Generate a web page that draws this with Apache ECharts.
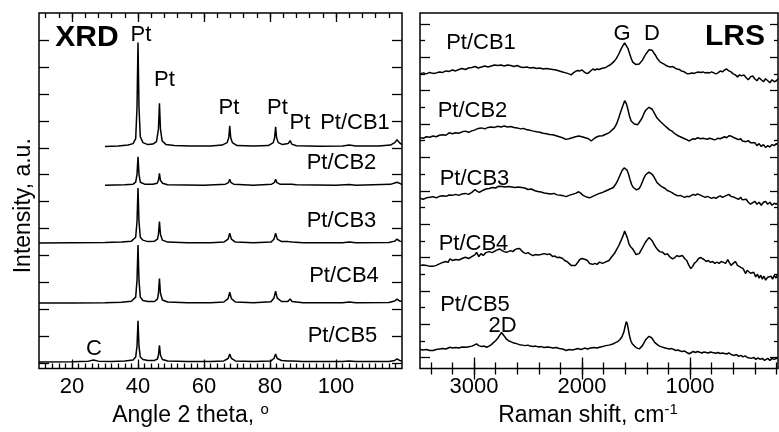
<!DOCTYPE html>
<html><head><meta charset="utf-8">
<script src="https://cdn.jsdelivr.net/npm/echarts@6/dist/echarts.min.js"></script>
<style>html,body{margin:0;padding:0;background:#fff}#c{width:779px;height:432px}</style>
</head><body><div id="c"></div>
<script>
// ---------- XRD (intensity a.u. relative to each trace baseline) ----------
const xrdNames = ['Pt/CB1','Pt/CB2','Pt/CB3','Pt/CB4','Pt/CB5'];
const xrdOffsets = [226, 186.7, 127.7, 66.7, 6.7];
const xrdCB1 = [[30,0],[34,0.5],[37,1.5],[38.5,3],[39.3,8],[39.7,40],[40,106],[40.3,40],[40.7,10],[41.5,4],[43,2],[44.5,2.5],[45.6,5],[46.2,18],[46.5,44],[46.8,18],[47.3,6],[48.5,2],[51,1],[56,0.5],[62,0.5],[65.5,1.5],[67,4],[67.5,9],[67.8,21],[68.1,9],[68.6,4],[70,1],[75,0.5],[79.5,1],[81,4],[81.4,9],[81.7,20],[82,9],[82.5,4],[83.8,2],[85.5,3],[86.1,6],[86.6,2.5],[88,0.8],[95,0.3],[102,0.5],[104,1.5],[106,0.5],[113,0.5],[116.5,1.5],[117.8,4],[118.5,7],[119.2,4],[120,2]];
const xrdCB2 = [[30,0],[36,0.3],[38.5,1],[39.3,3],[39.7,11],[40,29],[40.3,11],[40.7,3],[42,1],[44.5,1],[45.8,2],[46.2,5],[46.5,12],[46.8,5],[47.4,2],[49,0.5],[60,0],[66.5,1],[67.4,2.5],[67.8,6],[68.2,2.5],[69,1],[75,0],[80.5,1],[81.3,2.5],[81.7,6],[82.1,2.5],[83,1],[85.6,1],[86.1,2.3],[86.6,1],[88,0.3],[100,0],[104,0.7],[106,0],[116.5,0.8],[118.5,3],[119.5,1.5],[120,1]];
const xrdCB3 = [[10,0],[20,0.3],[30,0.5],[35,1],[38,2],[39.3,6],[39.7,22],[40,56],[40.3,22],[40.7,6],[41.5,3],[43,1.5],[45,2],[45.9,4],[46.2,9],[46.5,22],[46.8,9],[47.4,3],[49,1],[55,0.3],[62,0.3],[66,1],[67.3,4],[67.8,10],[68.3,4],[69.5,1],[75,0.3],[80.3,1],[81.2,4],[81.7,10],[82.2,4],[83.5,1.5],[85.5,1.5],[86.1,2.5],[86.7,1],[90,0.3],[102,0.3],[104,1],[106,0.3],[116,0.5],[117.8,2],[118.5,4],[119.3,2],[120,1.5]];
const xrdCB4 = [[10,0],[20,0],[30,0.3],[35,0.8],[38,1.8],[39.3,6],[39.7,23],[40,59],[40.3,23],[40.7,6],[41.5,2.5],[43,1.5],[45,1.5],[45.9,4],[46.2,10],[46.5,25],[46.8,10],[47.4,3],[49,1],[55,0.3],[62,0.3],[66,1],[67.3,4.5],[67.8,11],[68.3,4.5],[69.5,1],[75,0.3],[80.3,1.2],[81.2,5],[81.7,12],[82.2,5],[83.5,1.5],[85.4,1.5],[86.1,4],[86.7,1.5],[90,0.3],[102,0.3],[104,1],[106,0.3],[116,0.5],[117.8,2],[118.5,4],[119.3,2],[120,1.5]];
const xrdCB5 = [[10,0],[20,0.3],[25,0.8],[26.5,2],[28,0.8],[32,0.5],[36,1],[38.5,2],[39.3,5],[39.7,16],[40,42],[40.3,16],[40.7,5],[41.5,2.5],[43,1.5],[45,1.5],[45.9,3],[46.2,7],[46.5,17],[46.8,7],[47.4,2.5],[49,1],[55,0.5],[62,0.5],[66,1],[67.3,3.5],[67.8,8],[68.3,3.5],[69.5,1],[75,0.5],[80.3,1],[81.2,3.5],[81.7,8],[82.2,3.5],[83.5,1.5],[85.5,1],[86.1,2],[86.7,1],[90,0.5],[102,0.5],[104,1],[106,0.5],[116,0.5],[117.8,1.5],[118.5,3],[119.3,1.5],[120,1]];
const xrdTickLabels = [20, 40, 60, 80, 100];

// ---------- Raman (intensity a.u. relative to value at 3500 cm-1) ----------
const ramanNames = ['Pt/CB1','Pt/CB2','Pt/CB3','Pt/CB4','Pt/CB5'];
const ramanOffsets = [300, 235, 173.3, 105, 19.3];
const ramanCB1 = [[3500,0],[3470,1],[3440,0],[3410,1.5],[3380,0.5],[3350,1],[3320,2],[3290,1.5],[3260,3],[3230,2.5],[3200,4],[3170,3],[3140,4.5],[3110,5.5],[3080,4.5],[3050,6],[3020,6.5],[2990,7.5],[2960,6],[2930,7],[2900,8],[2870,7],[2840,8],[2810,9],[2780,8.5],[2750,9],[2720,8],[2690,9],[2660,8.5],[2630,7.5],[2600,8.5],[2570,7],[2540,6.5],[2510,7],[2480,6],[2450,6.5],[2420,5.5],[2390,6],[2360,5],[2330,5.5],[2300,5],[2270,4.5],[2240,4],[2210,3],[2180,2],[2150,1],[2120,0],[2100,-1],[2080,1],[2060,2.5],[2040,3.5],[2020,3],[2000,4],[1980,2],[1960,0.5],[1940,1],[1920,3],[1900,5],[1880,4],[1860,5],[1840,4.5],[1820,5.5],[1800,6],[1780,6.5],[1760,8],[1740,9],[1720,11],[1700,13],[1680,16],[1660,20],[1640,25],[1620,29],[1605,31.5],[1590,30],[1575,26],[1560,21],[1545,16],[1530,12],[1515,10],[1500,9.5],[1485,8.5],[1470,10],[1455,12],[1440,14],[1425,17],[1410,20],[1395,22],[1380,24.5],[1365,25.5],[1350,24],[1335,22],[1320,19],[1305,16],[1290,14],[1275,12],[1260,11],[1240,10],[1220,8.5],[1200,7.5],[1180,7],[1160,7.5],[1140,6],[1120,5],[1100,4.5],[1080,3],[1060,2.5],[1040,1],[1020,0],[1000,0.5],[980,1],[960,0.5],[940,1.5],[920,2],[900,1.5],[880,2],[860,1],[840,1.5],[820,1],[800,2],[780,1],[760,0],[740,1],[720,3],[700,2],[680,4],[660,5],[640,3],[620,2],[600,0],[580,-1],[560,-3],[540,-1],[520,-2],[500,-1],[480,-4],[460,-6],[440,-3],[420,-2],[400,-5],[380,-7],[360,-4],[340,-6],[320,-8],[300,-5],[280,-7],[260,-9],[240,-6],[220,-8],[200,-7],[185,-5]];
const ramanCB2 = [[3500,0],[3470,-0.5],[3440,1],[3410,0.5],[3380,1.7],[3350,1],[3320,2.5],[3290,3],[3260,2.5],[3230,5],[3200,4],[3170,5],[3140,4.5],[3110,6],[3080,6.7],[3050,5.5],[3020,7],[2990,8],[2960,9.5],[2930,10],[2900,9],[2870,10.5],[2840,11],[2810,10.5],[2780,11.7],[2750,11],[2720,12],[2690,11],[2660,11.5],[2630,10.5],[2600,10],[2570,9],[2540,9.5],[2510,8],[2480,7.5],[2450,6.7],[2420,6],[2390,5.5],[2360,4.5],[2330,4],[2300,3.3],[2270,3],[2240,2],[2210,1],[2180,0],[2150,-1.7],[2120,-1],[2090,0],[2060,1],[2030,1.7],[2000,1],[1970,0],[1940,-1],[1915,-3.3],[1890,-1],[1860,1],[1840,1.7],[1810,2],[1780,3.5],[1750,5],[1720,8],[1700,10],[1680,14],[1660,20],[1640,27],[1620,33],[1605,37.7],[1590,35],[1575,29],[1560,22],[1545,17],[1530,15],[1515,14],[1500,13.5],[1484,13.3],[1470,15],[1455,18],[1440,21],[1425,25],[1410,28],[1395,30],[1380,31],[1365,30.5],[1350,29],[1335,26],[1320,23],[1305,20],[1290,18],[1270,16],[1253,15],[1230,12],[1210,10],[1190,8],[1170,7],[1150,5],[1130,3.3],[1110,2],[1090,1],[1070,0],[1050,-1],[1030,-2],[1007,-3.3],[990,-2],[970,-1],[950,-1.5],[930,0],[915,0],[900,-1],[880,-0.5],[860,-1],[840,-1.5],[820,-0.5],[800,-1],[780,-2],[760,-1.7],[740,-0.5],[720,-1],[700,0],[680,1],[660,0],[640,2],[620,1.7],[607,1.7],[590,0],[570,-1],[550,-2],[530,-1],[515,-3.3],[500,-2],[480,-4],[460,-3],[440,-5],[422,-6.7],[400,-5],[380,-8],[360,-6],[340,-9],[320,-7],[299,-10],[280,-8],[260,-9.5],[240,-7],[220,-8],[200,-6],[191,-6.7]];
const ramanCB3 = [[3500,0],[3470,-1],[3440,0.5],[3410,1],[3380,1.7],[3350,0.5],[3320,2],[3290,2.5],[3260,2],[3230,3.3],[3200,3],[3170,4],[3140,3],[3110,4.5],[3080,5],[3050,4],[3020,6],[2990,9],[2970,7],[2950,6],[2920,8],[2890,9.5],[2860,10],[2830,11],[2800,10.5],[2770,12.4],[2740,12],[2710,11.5],[2680,12],[2650,11.5],[2620,11],[2590,11.5],[2560,11],[2530,10.5],[2500,9],[2470,9.5],[2440,8],[2410,7],[2380,6.5],[2350,5.5],[2320,5],[2290,4.5],[2260,5],[2230,3.5],[2200,3],[2170,2.5],[2146,1.7],[2120,3],[2090,4],[2060,5],[2030,6.7],[2010,5],[1990,3],[1970,2],[1950,1],[1930,0.5],[1915,0],[1900,2],[1880,3],[1860,4],[1838,5],[1810,6],[1780,7.5],[1750,9],[1730,10],[1710,11],[1690,14],[1670,18],[1650,23],[1630,28],[1610,31],[1598,31],[1585,29],[1570,25],[1555,19],[1540,14],[1525,11],[1510,9.5],[1495,8.5],[1484,8.4],[1470,10],[1455,13],[1440,17],[1425,21],[1410,24],[1395,26],[1380,26.7],[1365,26],[1350,24.5],[1335,22],[1320,19],[1305,16],[1290,14],[1270,12.5],[1253,11.7],[1230,10],[1210,8],[1190,7],[1170,6],[1150,4.5],[1130,3.4],[1110,2.5],[1090,3],[1070,2],[1050,1],[1030,2],[1007,1.7],[990,2.5],[970,4],[950,3],[930,4.5],[915,5],[900,3],[880,2],[860,1],[840,2],[820,1],[800,0],[780,1],[760,0],[740,1.5],[720,2.5],[700,1],[680,2],[660,3],[640,4],[620,2],[607,3.4],[590,1],[570,0],[550,-1],[530,1],[515,-1.6],[500,-3],[480,-1],[460,-4],[440,-6],[422,-6.7],[400,-3],[380,-6],[360,-4],[340,-7],[320,-4],[299,-3.3],[280,-6],[260,-4],[240,-7],[220,-5],[200,-6],[191,-5]];
const ramanCB4 = [[3500,0],[3470,0.5],[3440,0],[3410,-1],[3380,-1],[3350,0],[3320,1.5],[3290,3],[3260,4],[3240,3],[3223,6.7],[3200,5],[3170,6],[3140,5.5],[3110,7],[3080,8.3],[3050,7],[3020,9],[2990,11],[2976,13.3],[2955,9],[2935,12],[2915,10],[2890,13],[2860,14],[2830,13],[2800,15],[2780,16],[2761,16.7],[2740,15],[2720,14],[2700,13.3],[2680,14],[2660,15],[2640,14],[2620,16],[2600,17],[2577,17.3],[2560,15],[2540,13],[2520,12],[2500,13],[2480,11.5],[2454,10],[2430,11],[2410,10.5],[2380,11],[2350,12],[2320,11],[2300,11.7],[2270,9],[2250,9.5],[2230,8],[2208,8.3],[2180,7],[2160,5],[2140,4],[2120,2],[2100,0],[2085,-1.7],[2060,0],[2040,3],[2020,6],[2000,7],[1992,8.3],[1970,6],[1950,5],[1930,2],[1915,0],[1900,1],[1880,2],[1860,1],[1838,3.3],[1810,2],[1790,3],[1777,1.7],[1750,5],[1730,8],[1715,10],[1700,12],[1680,16],[1660,20],[1640,25],[1620,30],[1605,35],[1595,34],[1580,28],[1565,22],[1550,19],[1530,16.7],[1515,14],[1500,11],[1484,10],[1470,12],[1455,15],[1440,18],[1425,21],[1410,24],[1395,26],[1380,28.3],[1365,27],[1350,25],[1335,22],[1320,19],[1300,16],[1280,14],[1253,13.3],[1230,11],[1210,12],[1190,9],[1175,10],[1161,6.7],[1140,8],[1120,10],[1100,9],[1085,11],[1069,10],[1050,7],[1030,5],[1010,0],[992,-3.3],[975,-1],[960,2],[940,4],[920,7],[900,8],[884,8.3],[870,6],[850,4],[830,5],[810,3],[790,4],[770,2],[750,3.3],[730,2],[710,4],[690,3],[670,2],[650,6],[638,3.3],[620,0],[600,2],[580,4],[560,0],[546,1.7],[530,-2],[510,-3],[495,-6],[484,-8.3],[470,-5],[455,-4],[440,-8],[425,-10],[410,-7],[392,-11.7],[375,-9],[360,-13],[345,-10],[330,-14],[315,-11],[299,-15],[280,-12],[265,-14],[250,-11],[235,-14],[220,-10],[205,-13],[191,-10]];
const ramanCB5 = [[3500,0],[3470,-0.5],[3440,0],[3410,-1],[3377,-1],[3350,0],[3320,0.5],[3290,1],[3260,0.5],[3223,2.3],[3200,1.5],[3170,2],[3140,1.5],[3110,2.5],[3069,2.3],[3040,3],[3020,3.5],[3000,4.5],[2976,5.7],[2955,4],[2930,3],[2905,3.5],[2884,2.3],[2860,3.5],[2840,5],[2820,7],[2800,9],[2780,11.5],[2760,15],[2746,17.4],[2730,16],[2715,13],[2700,10.7],[2680,9],[2660,8],[2640,7],[2620,6.5],[2607,5.7],[2580,5],[2550,4.5],[2530,4],[2500,4.5],[2480,3.5],[2454,3],[2430,3.5],[2400,2.5],[2380,3],[2350,2],[2320,2.5],[2300,2.3],[2270,1.5],[2240,2],[2210,1],[2180,0.5],[2146,-1],[2120,0],[2090,-0.5],[2070,0],[2040,1],[2010,0],[1992,0.7],[1970,1.5],[1950,0.5],[1920,1.5],[1890,2],[1860,1.5],[1838,2.3],[1810,3],[1780,4],[1750,4.5],[1715,5.7],[1690,7],[1670,8],[1650,10],[1630,13],[1612,18],[1600,24],[1590,28.4],[1580,26],[1570,20],[1560,14],[1548,9],[1535,6],[1520,4.5],[1500,2],[1485,1],[1469,0.7],[1455,2],[1440,4],[1425,7],[1410,10],[1395,12],[1380,13.5],[1370,14],[1355,12],[1340,10],[1325,7],[1310,5],[1290,4],[1270,3],[1253,2.3],[1230,1.5],[1210,1],[1190,0.5],[1170,1],[1150,0],[1130,-1],[1110,-0.5],[1090,-1.5],[1070,-2],[1050,-1.5],[1030,-3],[1007,-4.3],[990,-3.5],[970,-2],[950,-3],[930,-2],[915,-2.7],[890,-3.5],[870,-2.5],[850,-3],[830,-3.5],[810,-2.5],[790,-3],[760,-3.7],[740,-3],[720,-4],[700,-3.5],[680,-4],[660,-4.5],[640,-3.5],[620,-5],[607,-5],[590,-6],[570,-5],[550,-7],[530,-6],[510,-7.5],[490,-6.5],[470,-8],[454,-7.7],[430,-9],[410,-8],[390,-10],[370,-8.5],[350,-10],[330,-9],[310,-11],[299,-10.3],[280,-9],[260,-11],[240,-9],[220,-10],[200,-9],[191,-9.3]];
const ramanTickLabels = [1000, 2000, 3000];

// ---------- tick position helpers (styling only) ----------
function range(a, b, s) { const r = []; for (let v = a; v <= b + 1e-9; v += s) r.push(+v.toFixed(4)); return r; }
const FONT = 'Liberation Sans, Arial, sans-serif';
const black = '#000';

const xrdXMin = 10, xrdXMax = 120;
const ramXMin = 185, ramXMax = 3500;

function xAxisCfg(grid, pos, min, max, inverse, ticks, len, labels, nameCfg) {
  const ax = {
    type: 'value', gridIndex: grid, position: pos, min, max, inverse,
    axisLine: { show: false }, splitLine: { show: false },
    axisTick: { show: true, inside: true, length: len, customValues: ticks, lineStyle: { color: black, width: 1.3 } },
    axisLabel: labels ? { show: true, customValues: labels, formatter: v => String(v), color: black, fontSize: 22, fontFamily: FONT, margin: 7 } : { show: false }
  };
  if (nameCfg) Object.assign(ax, nameCfg);
  return ax;
}
function yAxisCfg(grid, pos, ticks, len, nameCfg) {
  const ax = {
    type: 'value', gridIndex: grid, position: pos, min: 0, max: 362,
    axisLine: { show: false }, splitLine: { show: false },
    axisTick: { show: true, inside: true, length: len, customValues: ticks, lineStyle: { color: black, width: 1.3 } },
    axisLabel: { show: false }
  };
  if (nameCfg) Object.assign(ax, nameCfg);
  return ax;
}

const xrdYTicks = range(5.5, 340, 27.4);
const ramYTicksLong = range(11, 351, 34);
const ramYTicksShort = range(28, 334, 34);

const richName = {
  a: { fontSize: 23, fontFamily: FONT, color: black, lineHeight: 26 },
  s: { fontSize: 15, fontFamily: FONT, color: black, verticalAlign: 'top', lineHeight: 26 }
};
const xAxes = [
  // XRD
  xAxisCfg(0, 'bottom', xrdXMin, xrdXMax, false, range(12, 118, 2), 5, xrdTickLabels, {
    name: '{a|Angle 2 theta, }{s|o}', nameLocation: 'middle', nameGap: 34,
    nameTextStyle: { color: black, fontFamily: FONT, padding: [0, 60, 0, 0], rich: richName }
  }),
  xAxisCfg(0, 'bottom', xrdXMin, xrdXMax, false, xrdTickLabels, 9, null),
  xAxisCfg(0, 'top', xrdXMin, xrdXMax, false, range(12, 118, 4), 5, null),
  xAxisCfg(0, 'top', xrdXMin, xrdXMax, false, xrdTickLabels, 9, null),
  // Raman
  xAxisCfg(1, 'bottom', ramXMin, ramXMax, true, range(200, 3400, 200), 6, ramanTickLabels, {
    name: '{a|Raman shift, cm}{s|-1}', nameLocation: 'middle', nameGap: 34,
    nameTextStyle: { color: black, fontFamily: FONT, padding: [0, 22, 0, 0], rich: richName }
  }),
  xAxisCfg(1, 'bottom', ramXMin, ramXMax, true, ramanTickLabels, 11, null),
  xAxisCfg(1, 'top', ramXMin, ramXMax, true, range(200, 3400, 200), 6, null),
  xAxisCfg(1, 'top', ramXMin, ramXMax, true, ramanTickLabels, 11, null)
];
const yAxes = [
  yAxisCfg(0, 'left', xrdYTicks, 10, {
    name: 'Intensity, a.u.', nameLocation: 'middle', nameGap: 4, nameRotate: 90,
    nameTextStyle: { color: black, fontSize: 23, fontFamily: FONT, padding: [0, 30, 0, 0], verticalAlign: 'bottom' }
  }),
  yAxisCfg(0, 'right', xrdYTicks, 10),
  yAxisCfg(1, 'left', ramYTicksLong, 10),
  yAxisCfg(1, 'left', ramYTicksShort, 5),
  yAxisCfg(1, 'right', ramYTicksLong, 8),
  yAxisCfg(1, 'right', ramYTicksShort, 4)
];

function mkSeries(data, off, xi, yi) {
  return { type: 'line', xAxisIndex: xi, yAxisIndex: yi, data: data.map(p => [p[0], p[1] + off]),
    symbol: 'none', lineStyle: { color: black, width: 1.5 }, silent: true, animation: false, clip: true };
}
const xrdData = [xrdCB1, xrdCB2, xrdCB3, xrdCB4, xrdCB5];
const ramanData = [ramanCB1, ramanCB2, ramanCB3, ramanCB4, ramanCB5];
const series = [];
xrdData.forEach((d, i) => series.push(mkSeries(d, xrdOffsets[i], 0, 0)));
ramanData.forEach((d, i) => series.push(mkSeries(d, ramanOffsets[i], 4, 2)));

function txt(x, y, t, size, bold) {
  return { type: 'text', x, y, style: { text: t, fill: black, font: (bold ? 'bold ' : '') + size + 'px ' + FONT, textAlign: 'center', textVerticalAlign: 'middle' }, z: 100 };
}
const graphics = [
  txt(87, 38, 'XRD', 30, true),
  txt(141, 35, 'Pt', 22), txt(164.5, 80, 'Pt', 22), txt(229, 108, 'Pt', 22), txt(277.5, 108, 'Pt', 22), txt(300, 123, 'Pt', 22),
  txt(355, 123, xrdNames[0], 22), txt(341.5, 163, xrdNames[1], 22), txt(341.5, 221, xrdNames[2], 22),
  txt(344, 276, xrdNames[3], 22), txt(342.5, 336, xrdNames[4], 22), txt(94, 349, 'C', 22),
  txt(735, 37, 'LRS', 30, true), txt(622, 34, 'G', 22), txt(652, 34, 'D', 22),
  txt(481, 43, ramanNames[0], 22), txt(472.5, 111, ramanNames[1], 22), txt(474.5, 179, ramanNames[2], 22),
  txt(473.5, 244, ramanNames[3], 22), txt(475, 305, ramanNames[4], 22), txt(502.5, 326, '2D', 22)
];

const chart = echarts.init(document.getElementById('c'), null, { renderer: 'canvas' });
chart.setOption({
  animation: false,
  backgroundColor: '#fff',
  grid: [
    { left: 39, top: 13, width: 363, height: 362, show: true, borderColor: black, borderWidth: 1.5, backgroundColor: 'transparent' },
    { left: 420, top: 13, width: 358, height: 362, show: true, borderColor: black, borderWidth: 1.5, backgroundColor: 'transparent' }
  ],
  xAxis: xAxes,
  yAxis: yAxes,
  series,
  graphic: graphics
});
</script></body></html>
